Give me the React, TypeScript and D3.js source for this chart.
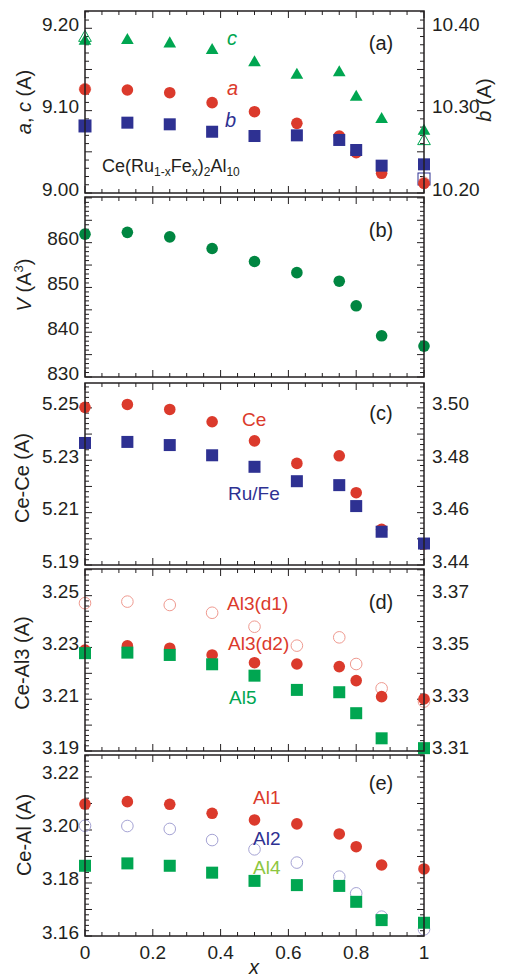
import React from 'react';
import * as d3 from 'd3';

// Fe content x
const xs = [0, 0.125, 0.25, 0.375, 0.5, 0.625, 0.75, 0.8, 0.875, 1];

// (a) lattice parameters
const cAxis = [9.1858, 9.1866, 9.1825, 9.1745, 9.1595, 9.1445, 9.1473, 9.1178, 9.0907, 9.0765];
const aAxis = [9.1259, 9.1251, 9.1218, 9.1097, 9.0987, 9.0846, 9.0692, 9.049, 9.0239, 9.0118];
const bAxis = [10.2814, 10.2854, 10.2834, 10.2744, 10.2692, 10.27, 10.2644, 10.2522, 10.2332, 10.2348];
const refX = [0, 1];
const cRef = [9.1898, 9.0644];
const aRef = [9.1262, 9.0125];
const bRef = [10.2814, 10.217];

// (b) volume
const volume = [861.9, 862.3, 861.3, 858.7, 855.8, 853.3, 851.4, 845.9, 839.2, 836.9];

// (c) Ce-Ce and Ru/Fe distances
const ceCe = [5.2502, 5.2513, 5.2494, 5.2447, 5.2374, 5.2288, 5.2317, 5.2176, 5.2036, 5.198];
const ruFe = [3.4866, 3.487, 3.4858, 3.4819, 3.4775, 3.472, 3.4705, 3.4625, 3.4527, 3.4482];

// (d) Ce-Al3 and Ce-Al5
const al3d1 = [3.3671, 3.3677, 3.3664, 3.3634, 3.358, 3.3507, 3.3539, 3.3436, 3.3342, 3.3291];
const al3d2 = [3.229, 3.2306, 3.2297, 3.2271, 3.2241, 3.2236, 3.2226, 3.2172, 3.211, 3.2101];
const al5 = [3.2278, 3.228, 3.2271, 3.2235, 3.2191, 3.2136, 3.2127, 3.2046, 3.1949, 3.1911];

// (e) Ce-Al1, Al2, Al4
const al1 = [3.2098, 3.2107, 3.2097, 3.2063, 3.2038, 3.2023, 3.1985, 3.1937, 3.1868, 3.1853];
const al2 = [3.2016, 3.2015, 3.2004, 3.1962, 3.1927, 3.1877, 3.1824, 3.1761, 3.1673, 3.1625];
const al4 = [3.1865, 3.1874, 3.1865, 3.1839, 3.1808, 3.1792, 3.1789, 3.1729, 3.166, 3.165];

// tick labels
const xTickLabels = [0, 0.2, 0.4, 0.6, 0.8, 1];
const aLeftLabels = ['9.00', '9.10', '9.20'];
const aRightLabels = ['10.20', '10.30', '10.40'];
const bLeftLabels = ['830', '840', '850', '860'];
const cLeftLabels = ['5.19', '5.21', '5.23', '5.25'];
const cRightLabels = ['3.44', '3.46', '3.48', '3.50'];
const dLeftLabels = ['3.19', '3.21', '3.23', '3.25'];
const dRightLabels = ['3.31', '3.33', '3.35', '3.37'];
const eLeftLabels = ['3.16', '3.18', '3.20', '3.22'];

const red = '#db3a2c';
const blue = '#2e3192';
const green = '#00a651';
const darkGreen = '#008641';
const lightGreen = '#8dc63f';
const ink = '#231f20';
const font = '"Liberation Sans", Arial, sans-serif';

const W = 505;
const H = 977;
const left = 85;
const right = 424;

const x = d3.scaleLinear().domain([0, 1]).range([left, right]);

function steps(lo: number, hi: number, step: number) {
  const out: number[] = [];
  const s = Math.ceil(lo / step - 1e-6);
  const e = Math.floor(hi / step + 1e-6);
  for (let i = s; i <= e; i++) out.push(+(i * step).toFixed(6));
  return out;
}

function isMultiple(v: number, step: number) {
  const r = v / step;
  return Math.abs(r - Math.round(r)) < 1e-4;
}

type Shape = 'circle' | 'square' | 'triangle';

type Series = {
  xv: number[];
  yv: number[];
  side: 'L' | 'R';
  shape: Shape;
  fill: string;
  stroke?: string;
  sw?: number;
};

type AxisCfg = {
  domain: [number, number];
  minor: number;
  major: number;
  labels: string[];
};

type PanelCfg = {
  y0: number;
  y1: number;
  leftAxis: AxisCfg;
  rightAxis?: AxisCfg;
  series: Series[];
};

function marker(shape: Shape, cx: number, cy: number, fill: string, stroke: string | undefined, sw: number, key: string) {
  if (shape === 'circle') {
    return <circle key={key} cx={cx} cy={cy} r={5.8} fill={fill} stroke={stroke || 'none'} strokeWidth={sw} />;
  }
  if (shape === 'square') {
    const s = 12;
    return <rect key={key} x={cx - s / 2} y={cy - s / 2} width={s} height={s} fill={fill} stroke={stroke || 'none'} strokeWidth={sw} />;
  }
  const path = d3.symbol(d3.symbolTriangle, 70)();
  return <path key={key} d={path || ''} transform={`translate(${cx},${cy + 1})`} fill={fill} stroke={stroke || 'none'} strokeWidth={sw} />;
}

function yTicks(axis: AxisCfg, y: d3.ScaleLinear<number, number>, xPos: number, dir: number, labelSide: 'L' | 'R' | null, key: string) {
  const els: React.ReactNode[] = [];
  steps(axis.domain[0], axis.domain[1], axis.minor).forEach((v, i) => {
    const maj = isMultiple(v, axis.major);
    const len = maj ? 7 : 4;
    const yy = y(v);
    els.push(<line key={`${key}t${i}`} x1={xPos} x2={xPos + dir * len} y1={yy} y2={yy} stroke={ink} strokeWidth={1} />);
  });
  if (labelSide) {
    axis.labels.forEach((t, i) => {
      const yy = y(+t);
      els.push(
        <text key={`${key}l${i}`} x={labelSide === 'L' ? xPos - 6 : xPos + 8} y={yy + 2.5}
          textAnchor={labelSide === 'L' ? 'end' : 'start'} fontSize={19} fill={ink}>
          {t}
        </text>
      );
    });
  }
  return els;
}

function Panel({ cfg, showRightLabels, showX, id }: { cfg: PanelCfg; showRightLabels: boolean; showX: boolean; id: string }) {
  const yL = d3.scaleLinear().domain(cfg.leftAxis.domain).range([cfg.y1, cfg.y0]);
  const rA = cfg.rightAxis || cfg.leftAxis;
  const yR = d3.scaleLinear().domain(rA.domain).range([cfg.y1, cfg.y0]);
  const els: React.ReactNode[] = [];
  steps(0, 1, 0.05).forEach((v, i) => {
    const maj = isMultiple(v, 0.2);
    const len = maj ? 7 : 4;
    els.push(<line key={`xb${i}`} x1={x(v)} x2={x(v)} y1={cfg.y1} y2={cfg.y1 - len} stroke={ink} strokeWidth={1} />);
    els.push(<line key={`xt${i}`} x1={x(v)} x2={x(v)} y1={cfg.y0} y2={cfg.y0 + len} stroke={ink} strokeWidth={1} />);
  });
  if (showX) {
    xTickLabels.forEach((v, i) => {
      els.push(<text key={`xl${i}`} x={x(v)} y={cfg.y1 + 23} textAnchor="middle" fontSize={19} fill={ink}>{String(v)}</text>);
    });
  }
  return (
    <g>
      {yTicks(cfg.leftAxis, yL, left, 1, 'L', `${id}L`)}
      {yTicks(rA, yR, right, -1, showRightLabels ? 'R' : null, `${id}R`)}
      {els}
      {cfg.series.map((s, si) =>
        s.xv.map((xv, i) => marker(s.shape, x(xv), (s.side === 'L' ? yL : yR)(s.yv[i]), s.fill, s.stroke, s.sw || 0, `${id}s${si}p${i}`))
      )}
      <rect x={left} y={cfg.y0} width={right - left} height={cfg.y1 - cfg.y0} fill="none" stroke={ink} strokeWidth={1.5} />
    </g>
  );
}

const panels: PanelCfg[] = [
  {
    y0: 11, y1: 193,
    leftAxis: { domain: [9.0, 9.221], minor: 0.01, major: 0.05, labels: aLeftLabels },
    rightAxis: { domain: [10.2, 10.421], minor: 0.01, major: 0.05, labels: aRightLabels },
    series: [
      { xv: refX, yv: aRef, side: 'L', shape: 'circle', fill: 'none', stroke: '#f2a79f', sw: 1 },
      { xv: refX, yv: bRef, side: 'R', shape: 'square', fill: 'none', stroke: blue, sw: 1 },
      { xv: refX, yv: cRef, side: 'L', shape: 'triangle', fill: 'none', stroke: green, sw: 1 },
      { xv: xs, yv: cAxis, side: 'L', shape: 'triangle', fill: green },
      { xv: xs, yv: aAxis, side: 'L', shape: 'circle', fill: red },
      { xv: xs, yv: bAxis, side: 'R', shape: 'square', fill: blue },
    ],
  },
  {
    y0: 197, y1: 377,
    leftAxis: { domain: [830, 870.2], minor: 1, major: 5, labels: bLeftLabels },
    series: [{ xv: xs, yv: volume, side: 'L', shape: 'circle', fill: darkGreen }],
  },
  {
    y0: 383, y1: 565,
    leftAxis: { domain: [5.19, 5.2595], minor: 0.002, major: 0.01, labels: cLeftLabels },
    rightAxis: { domain: [3.44, 3.5095], minor: 0.002, major: 0.01, labels: cRightLabels },
    series: [
      { xv: xs, yv: ceCe, side: 'L', shape: 'circle', fill: red },
      { xv: xs, yv: ruFe, side: 'R', shape: 'square', fill: blue },
    ],
  },
  {
    y0: 569, y1: 751,
    leftAxis: { domain: [3.19, 3.2603], minor: 0.002, major: 0.01, labels: dLeftLabels },
    rightAxis: { domain: [3.31, 3.3803], minor: 0.002, major: 0.01, labels: dRightLabels },
    series: [
      { xv: xs, yv: al3d1, side: 'R', shape: 'circle', fill: 'none', stroke: '#ef9a90', sw: 1 },
      { xv: xs, yv: al3d2, side: 'L', shape: 'circle', fill: red },
      { xv: xs, yv: al5, side: 'L', shape: 'square', fill: green },
    ],
  },
  {
    y0: 755, y1: 936,
    leftAxis: { domain: [3.16, 3.2283], minor: 0.002, major: 0.01, labels: eLeftLabels },
    series: [
      { xv: xs, yv: al2, side: 'L', shape: 'circle', fill: 'none', stroke: '#a5a3d4', sw: 1 },
      { xv: xs, yv: al1, side: 'L', shape: 'circle', fill: red },
      { xv: xs, yv: al4, side: 'L', shape: 'square', fill: green },
    ],
  },
];

function VTitle({ x0, y0, children }: { x0: number; y0: number; children: React.ReactNode }) {
  return (
    <text transform={`translate(${x0},${y0}) rotate(-90)`} textAnchor="middle" fontSize={20} fill={ink}>
      {children}
    </text>
  );
}

export default function App() {
  return (
    <svg width={W} height={H} style={{ position: 'absolute', left: 0, top: 0, background: '#fff' }} fontFamily={font}>
      <rect width={W} height={H} fill="#fff" />
      {panels.map((p, i) => (
        <Panel key={i} cfg={p} id={`p${i}`}
          showRightLabels={!!p.rightAxis}
          showX={i === panels.length - 1} />
      ))}

      {/* axis titles */}
      <VTitle x0={31} y0={102}><tspan fontStyle="italic">a</tspan>, <tspan fontStyle="italic">c</tspan> (A)</VTitle>
      <text transform="translate(491,100) rotate(-90)" textAnchor="middle" fontSize={20} fill={ink}>
        <tspan fontStyle="italic">b</tspan> (A)
      </text>
      <VTitle x0={31} y0={285}><tspan fontStyle="italic">V</tspan> (A<tspan dy={-8} fontSize={13}>3</tspan><tspan dy={8}>)</tspan></VTitle>
      <VTitle x0={29} y0={478}>Ce-Ce (A)</VTitle>
      <VTitle x0={29} y0={663}>Ce-Al3 (A)</VTitle>
      <VTitle x0={31} y0={835}>Ce-Al (A)</VTitle>
      <text x={254} y={974} textAnchor="middle" fontSize={20} fontStyle="italic" fill={ink}>x</text>

      {/* panel letters */}
      {[['(a)', 50], ['(b)', 237], ['(c)', 420], ['(d)', 609], ['(e)', 790]].map(([t, yy]) => (
        <text key={t as string} x={381} y={yy as number} textAnchor="middle" fontSize={20} fill={ink}>{t}</text>
      ))}

      {/* series labels */}
      <text x={227} y={45} fontSize={20} fontStyle="italic" fill={green}>c</text>
      <text x={227} y={95} fontSize={20} fontStyle="italic" fill={red}>a</text>
      <text x={225} y={127} fontSize={20} fontStyle="italic" fill={blue}>b</text>
      <text x={102} y={172} fontSize={18} fill={ink}>
        Ce(Ru<tspan dy={4} fontSize={12}>1-x</tspan><tspan dy={-4}>Fe</tspan><tspan dy={4} fontSize={12}>x</tspan><tspan dy={-4}>)</tspan><tspan dy={4} fontSize={12}>2</tspan><tspan dy={-4}>Al</tspan><tspan dy={4} fontSize={12}>10</tspan>
      </text>
      <text x={242} y={426} fontSize={19} fill={red}>Ce</text>
      <text x={228} y={500} fontSize={19} fill={blue}>Ru/Fe</text>
      <text x={227} y={610} fontSize={19} fill={red}>Al3(d1)</text>
      <text x={228} y={650} fontSize={19} fill={red}>Al3(d2)</text>
      <text x={229} y={704} fontSize={19} fill={green}>Al5</text>
      <text x={253} y={804} fontSize={19} fill={red}>Al1</text>
      <text x={253} y={845} fontSize={19} fill={blue}>Al2</text>
      <text x={253} y={874} fontSize={19} fill={lightGreen}>Al4</text>
    </svg>
  );
}
